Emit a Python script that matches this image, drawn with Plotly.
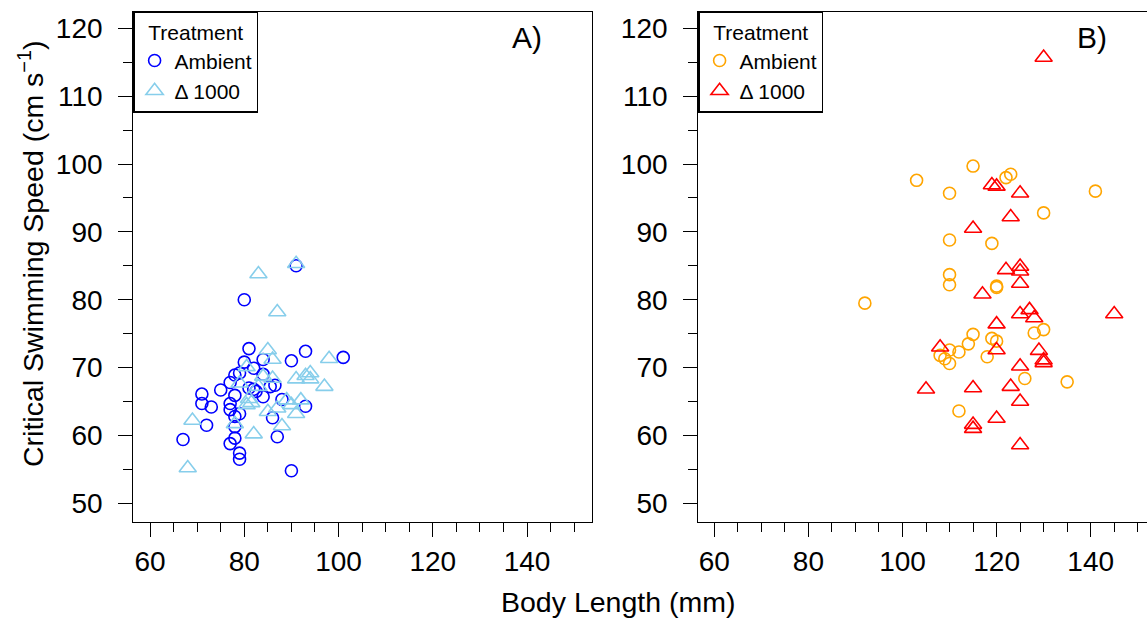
import plotly.graph_objects as go

# ---------------- data ----------------
# Panel A
a_amb_x = [91, 80, 81, 93, 101, 90, 84, 80, 82, 79, 78, 84, 77, 75, 81, 82.5, 85.5, 86.5, 84, 71,
           71, 73, 77, 78, 77, 79, 78, 88, 93, 86, 72, 78, 87, 67, 78, 77, 79, 79, 90, 82]
a_amb_y = [85.0, 80.0, 72.8, 72.4, 71.5, 71.0, 71.2, 70.8, 69.9, 69.2, 68.9, 69.0, 67.8, 66.7, 67.0, 66.5, 67.2, 67.4, 65.7, 66.1,
           64.7, 64.2, 64.7, 65.9, 63.8, 63.2, 62.8, 65.3, 64.3, 62.6, 61.5, 61.3, 59.8, 59.4, 59.6, 58.8, 57.4, 56.5, 54.8, 66.8]
a_trt_x = [91, 83, 87, 85, 86, 98, 93, 94, 94, 91, 97, 84, 86, 80.5, 79, 83, 81, 81.5, 80.5, 85,
           87, 89, 90, 92, 91, 88, 82, 69, 68, 78]
a_trt_y = [85.3, 83.8, 78.2, 72.6, 71.2, 71.3, 68.8, 69.2, 68.3, 68.3, 67.2, 68.7, 68.4, 70.1, 67.7, 67.2, 65.4, 64.8, 64.5, 63.5,
           64.0, 65.2, 64.5, 65.2, 63.2, 61.4, 60.2, 62.2, 55.2, 61.7]

# Panel B
b_amb_x = [115, 103, 122, 123, 110, 141, 130, 110, 119, 110, 110, 120, 120, 92, 115, 114, 119, 120, 128, 130,
           110, 112, 108, 109, 110, 118, 126, 135, 112]
b_amb_y = [99.7, 97.6, 98.0, 98.5, 95.7, 96.0, 92.8, 88.8, 88.3, 83.7, 82.2, 81.8, 82.0, 79.5, 74.9, 73.5, 74.3, 73.9, 75.1, 75.6,
           72.6, 72.3, 71.8, 71.3, 70.6, 71.6, 68.4, 67.9, 63.6]
b_trt_x = [130, 119, 120, 125, 123, 115, 122, 125, 125, 125, 117, 125, 127, 128, 145, 120, 108, 120, 129, 130,
           130, 125, 105, 115, 123, 125, 120, 115, 115, 125]
b_trt_y = [115.7, 96.9, 96.7, 95.7, 92.2, 90.5, 84.4, 84.9, 84.2, 82.4, 80.8, 77.9, 78.5, 77.3, 77.9, 76.4, 73.0, 72.6, 72.5, 71.1,
           70.7, 70.2, 66.8, 67.0, 67.2, 65.0, 62.5, 61.6, 61.0, 58.6]

x_label_ticks = [60, 80, 100, 120, 140]
x_unlabeled_ticks = [70, 90, 110, 130, 150]
y_tickvals = [50, 60, 70, 80, 90, 100, 110, 120]

series_names = ["Ambient", "\u0394 1000"]

# ---------------- figure ----------------
W, H = 1147, 624
FONT = "Liberation Sans, Arial, Helvetica, sans-serif"

def px_x(p):
    return p / W

def px_y(p):
    return 1 - p / H

fig = go.Figure()

def add(x, y, name, color, symbol, size, xa, ya, legend):
    fig.add_trace(go.Scatter(
        x=x, y=y, mode="markers", name=name,
        marker=dict(symbol=symbol, size=size, color=color, line=dict(width=1.6, color=color)),
        xaxis=xa, yaxis=ya, legend=legend, showlegend=True,
    ))

add(a_amb_x, a_amb_y, series_names[0], "#0000FF", "circle-open", 12, "x", "y", "legend")
add(a_trt_x, a_trt_y, series_names[1], "#87CEEB", "triangle-up-open", 15, "x", "y", "legend")
add(b_amb_x, b_amb_y, series_names[0], "#FFA500", "circle-open", 12, "x2", "y2", "legend2")
add(b_trt_x, b_trt_y, series_names[1], "#FF0000", "triangle-up-open", 15, "x2", "y2", "legend2")

TICKSIZE = 28
tickfont = dict(family=FONT, size=TICKSIZE, color="black")
minor_common = dict(ticks="outside", ticklen=9, tickwidth=1.3, tickcolor="black", showgrid=False)

def xaxis(domain, rng, anchor):
    return dict(
        domain=domain, range=rng, anchor=anchor,
        tickmode="array", tickvals=x_label_ticks,
        ticks="outside", ticklen=14, tickwidth=1.3, tickcolor="black",
        showline=True, linecolor="black", linewidth=1.3, mirror=True,
        showgrid=False, zeroline=False, tickfont=tickfont, ticklabelstandoff=0,
        minor=dict(dtick=5, tick0=0, **minor_common),
    )

def xaxis_extra(domain, rng, anchor, overlay):
    # long ticks without labels at the odd tens
    return dict(
        domain=domain, range=rng, anchor=anchor, overlaying=overlay, side="bottom",
        tickmode="array", tickvals=x_unlabeled_ticks, showticklabels=False,
        ticks="outside", ticklen=14, tickwidth=1.3, tickcolor="black",
        showline=False, showgrid=False, zeroline=False,
    )

def yaxis(domain, rng, anchor, mirror):
    return dict(
        domain=domain, range=rng, anchor=anchor,
        tickmode="array", tickvals=y_tickvals,
        ticks="outside", ticklen=14, tickwidth=1.3, tickcolor="black",
        showline=True, linecolor="black", linewidth=1.3, mirror=mirror,
        showgrid=False, zeroline=False, tickfont=tickfont, ticklabelstandoff=10,
        minor=dict(dtick=5, tick0=0, **minor_common),
    )

ydom = [px_y(522.3), px_y(11.7)]
yr = [47.2, 122.45]
xdomA = [px_x(133.3), px_x(591.6)]
xdomB = [px_x(698.3), 1.0]
xrA = [56.45, 153.7]
xrB = [56.6, 151.97]

legend_common = dict(
    bgcolor="white", bordercolor="black", borderwidth=1.3,
    font=dict(family=FONT, size=21, color="black"),
    title=dict(text="Treatment", side="top center", font=dict(family=FONT, size=21, color="black")),
    xanchor="left", yanchor="top", tracegroupgap=0,
)

TITLESIZE = 28.5

fig.update_layout(
    width=W, height=H,
    margin=dict(l=0, r=0, t=0, b=0),
    paper_bgcolor="white", plot_bgcolor="white",
    font=dict(family=FONT, size=26, color="black"),
    xaxis=xaxis(xdomA, xrA, "y"),
    yaxis=yaxis(ydom, yr, "x", True),
    xaxis2=xaxis(xdomB, xrB, "y2"),
    yaxis2=yaxis(ydom, yr, "x2", False),
    xaxis3=xaxis_extra(xdomA, xrA, "y", "x"),
    xaxis4=xaxis_extra(xdomB, xrB, "y2", "x2"),
    legend=dict(x=px_x(133.3), y=px_y(11.7), **legend_common),
    legend2=dict(x=px_x(698.3), y=px_y(11.7), **legend_common),
    annotations=[
        dict(text="A)", x=px_x(526.7), y=px_y(37), xref="paper", yref="paper",
             showarrow=False, xanchor="center", yanchor="middle",
             font=dict(family=FONT, size=30, color="black")),
        dict(text="B)", x=px_x(1091.7), y=px_y(37), xref="paper", yref="paper",
             showarrow=False, xanchor="center", yanchor="middle",
             font=dict(family=FONT, size=30, color="black")),
        dict(text="Critical Swimming Speed (cm s<sup>\u22121</sup>)", x=px_x(31), y=px_y(254),
             xref="paper", yref="paper", showarrow=False, textangle=-90,
             xanchor="center", yanchor="middle",
             font=dict(family=FONT, size=TITLESIZE, color="black")),
        dict(text="Body Length (mm)", x=px_x(618), y=px_y(602), xref="paper", yref="paper",
             showarrow=False, xanchor="center", yanchor="middle",
             font=dict(family=FONT, size=TITLESIZE, color="black")),
    ],
)

fig.write_html("out.html")
